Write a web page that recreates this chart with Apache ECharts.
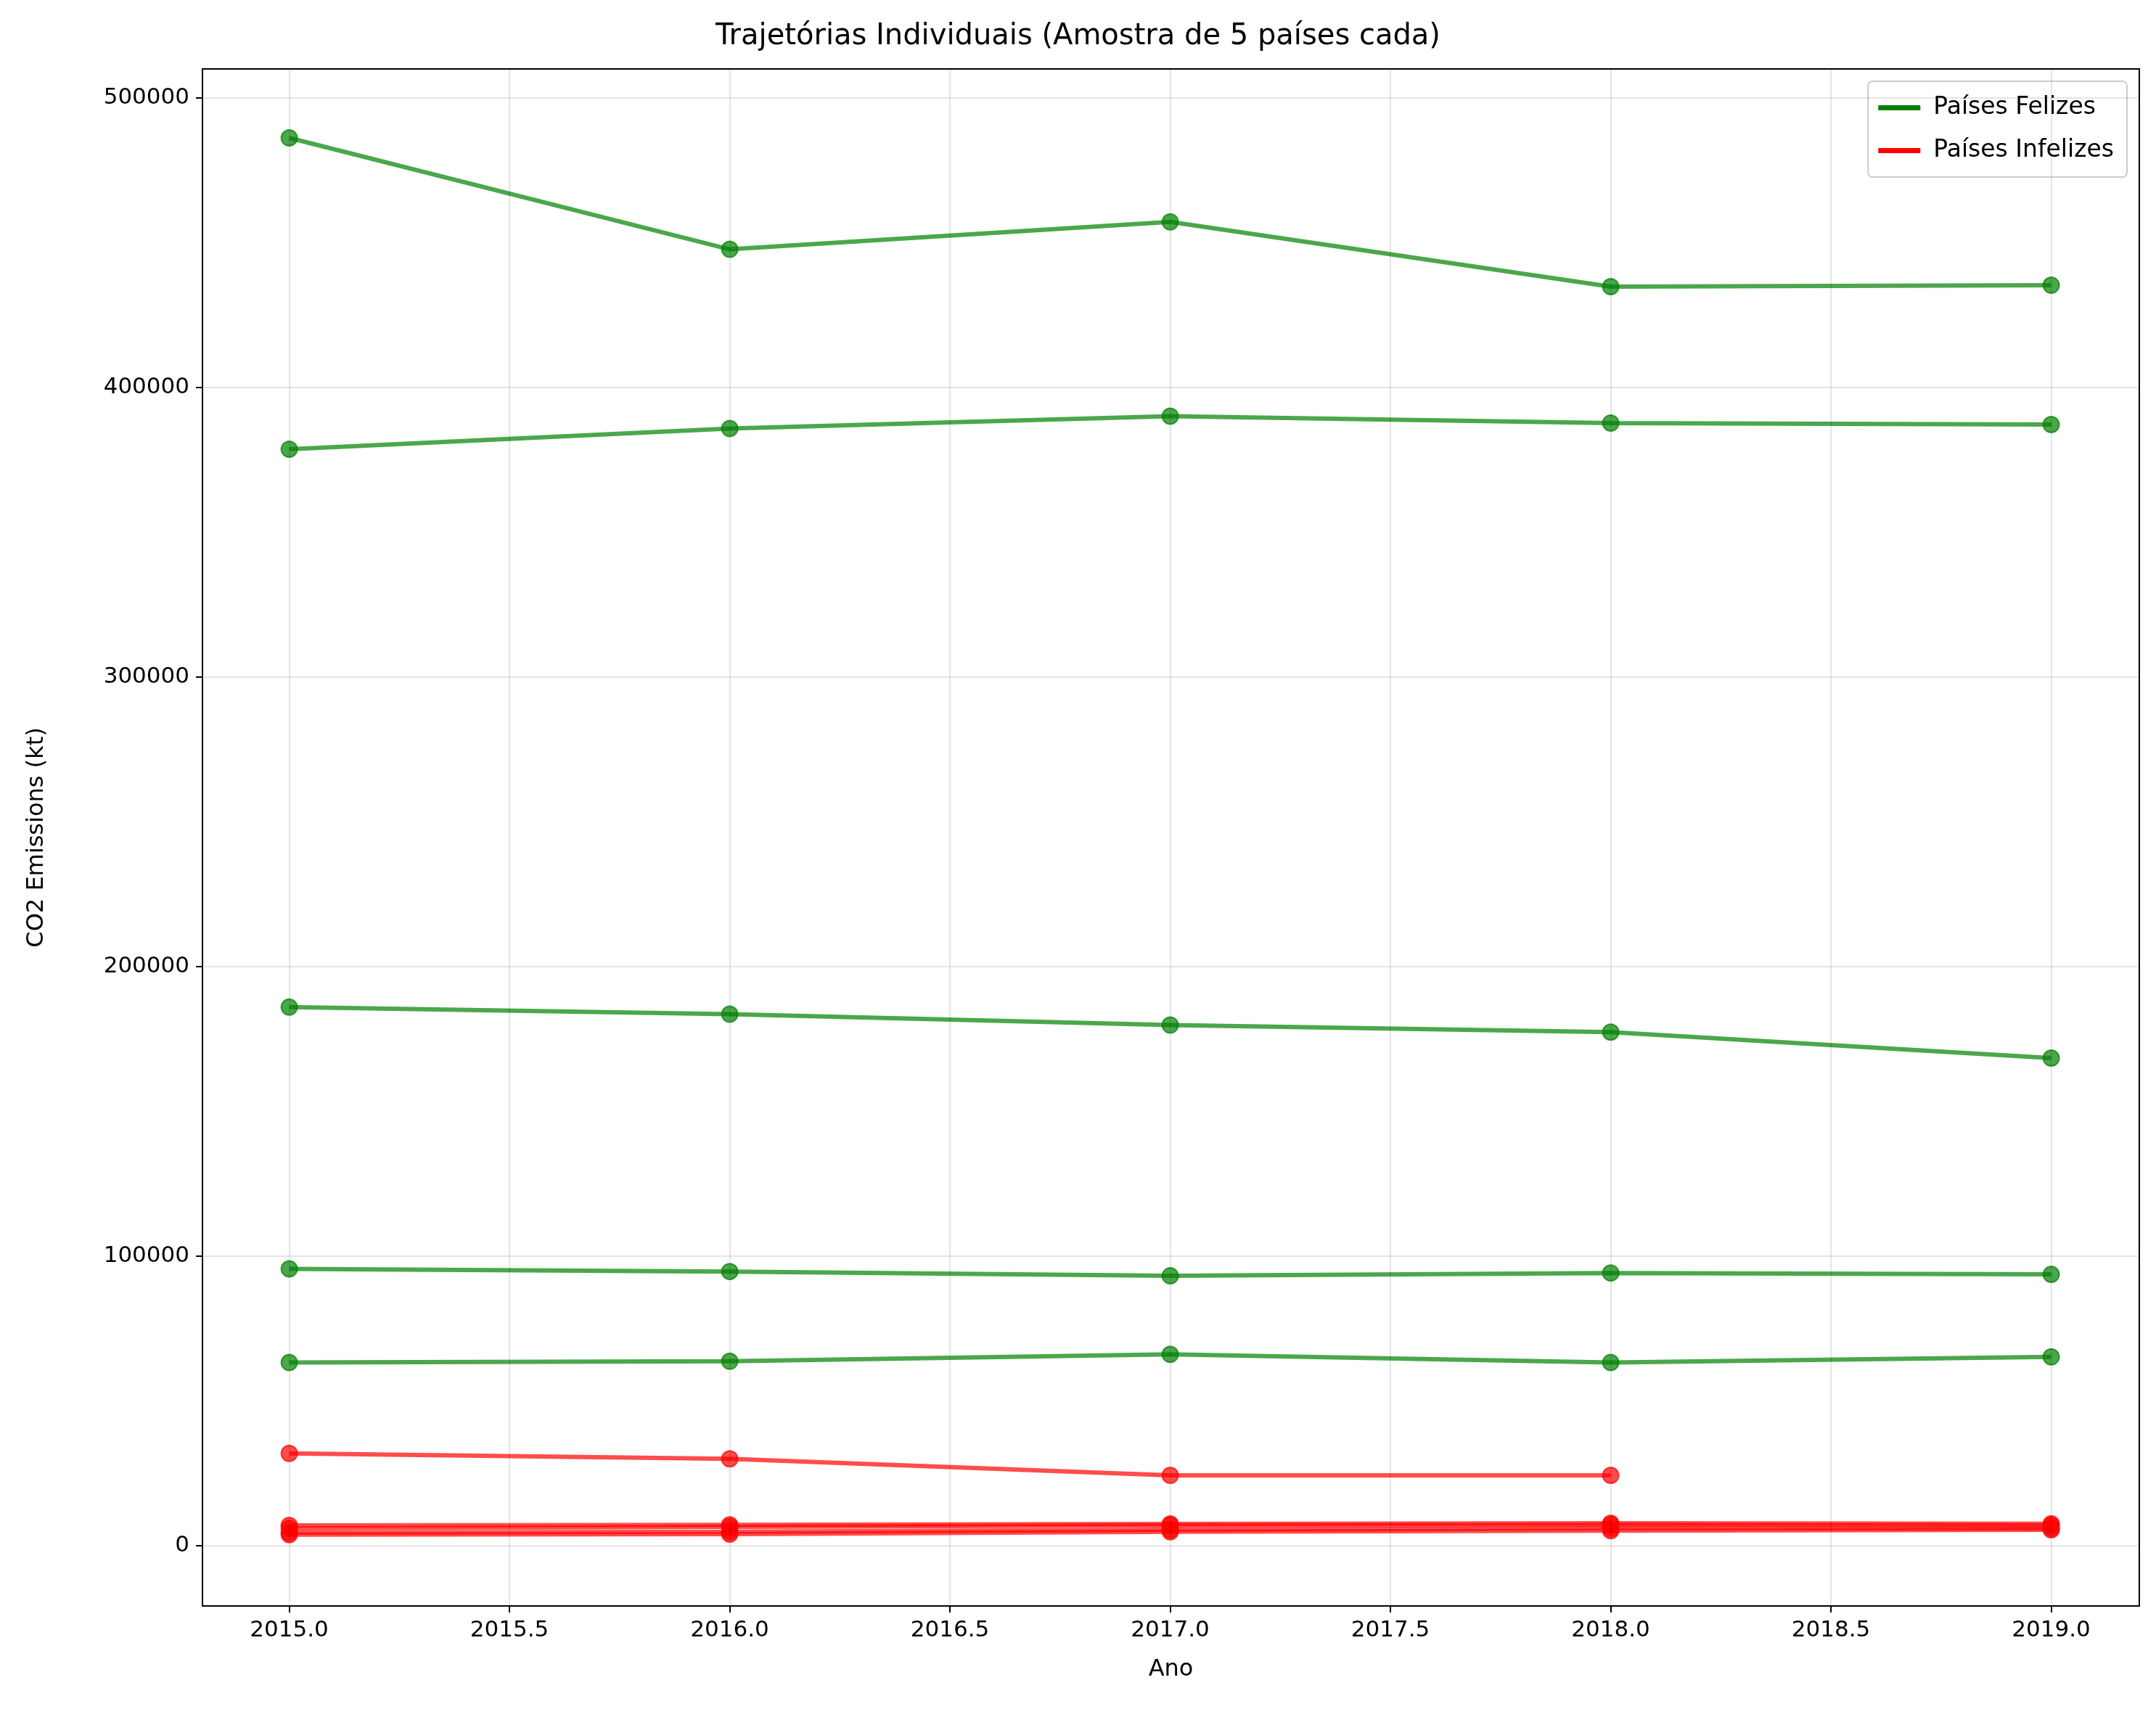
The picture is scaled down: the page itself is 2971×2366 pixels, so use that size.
<!DOCTYPE html>
<html><head><meta charset="utf-8">
<script src="https://cdn.jsdelivr.net/npm/echarts@6/dist/echarts.min.js"></script>
<style>html,body{margin:0;padding:0;background:#fff}#c{width:2971px;height:2366px}</style>
</head><body><div id="c"></div>
<script>
const years = [2015, 2016, 2017, 2018, 2019];
const xTicks = [2015, 2015.5, 2016, 2016.5, 2017, 2017.5, 2018, 2018.5, 2019];
const yTicks = [0, 100000, 200000, 300000, 400000, 500000];

// Países Felizes
const happy1 = [486200, 447700, 457200, 434800, 435300];
const happy2 = [378700, 385800, 390100, 387700, 387200];
const happy3 = [186000, 183600, 179800, 177400, 168400];
const happy4 = [95600, 94700, 93200, 94200, 93700];
const happy5 = [63300, 63700, 66100, 63300, 65200];
// Países Infelizes
const unhappy1 = [31900, 30000, 24300, 24300, null];
const unhappy2 = [7000, 7200, 7500, 7800, 7600];
const unhappy3 = [6000, 6500, 7000, 7200, 7000];
const unhappy4 = [4500, 4800, 5500, 6000, 6000];
const unhappy5 = [3800, 4000, 4800, 5200, 5500];

const happyName = 'Países Felizes', unhappyName = 'Países Infelizes';
const green = '#008000', red = '#ff0000';
const font = 'DejaVu Sans';

function line(name, color, vals) {
  return {
    name: name, type: 'line', symbol: 'circle', symbolSize: 22,
    data: years.map((y, i) => vals[i] == null ? null : [y, vals[i]]).filter(d => d),
    lineStyle: { color: color, width: 6, opacity: 0.7 },
    itemStyle: { color: color, opacity: 0.7, borderColor: color, borderWidth: 2 },
    emphasis: { disabled: true }, z: 3
  };
}

const series = [
  ...[happy1, happy2, happy3, happy4, happy5].map(v => line(happyName, green, v)),
  ...[unhappy1, unhappy2, unhappy3, unhappy4, unhappy5].map(v => line(unhappyName, red, v)),
  {
    type: 'line', data: [], silent: true,
    markLine: {
      silent: true, symbol: 'none', label: { show: false },
      lineStyle: { color: '#000', opacity: 0.1, width: 2, type: 'solid' },
      data: [...xTicks.map(x => ({ xAxis: x })), ...yTicks.map(y => ({ yAxis: y }))]
    }, z: 1
  }
];

const chart = echarts.init(document.getElementById('c'));
chart.setOption({
  animation: false,
  textStyle: { fontFamily: font },
  title: {
    text: 'Trajetórias Individuais (Amostra de 5 países cada)', left: 'center', top: 26,
    textStyle: { fontFamily: font, fontSize: 40, fontWeight: 'normal', color: '#000' }
  },
  legend: {
    data: [
      { name: happyName, itemStyle: { color: green, opacity: 1 }, lineStyle: { color: green, opacity: 1 } },
      { name: unhappyName, itemStyle: { color: red, opacity: 1 }, lineStyle: { color: red, opacity: 1 } }
    ],
    orient: 'vertical', right: 40, top: 112, icon: 'rect', itemWidth: 56, itemHeight: 5,
    itemGap: 26, padding: [20, 18, 20, 14], borderColor: '#ccc', borderWidth: 2, borderRadius: 6,
    backgroundColor: '#fff', textStyle: { fontFamily: font, fontSize: 33, color: '#000', padding: [0, 0, 0, 14] }
  },
  grid: { left: 279, right: 23, top: 95, bottom: 153, show: true, borderColor: '#000', borderWidth: 2 },
  xAxis: {
    type: 'value', min: 2014.803, max: 2019.2, name: 'Ano', nameLocation: 'middle', nameGap: 72,
    nameTextStyle: { fontSize: 32, color: '#000' },
    axisLine: { show: false, onZero: false }, splitLine: { show: false },
    axisTick: { customValues: xTicks, length: 9, lineStyle: { color: '#000', width: 2 } },
    axisLabel: { customValues: xTicks, fontSize: 31, color: '#000', margin: 18, formatter: v => v.toFixed(1) }
  },
  yAxis: {
    type: 'value', min: -20800, max: 510000, name: 'CO2 Emissions (kt)', nameLocation: 'middle', nameGap: 212,
    nameTextStyle: { fontSize: 32, color: '#000' },
    axisLine: { show: false, onZero: false }, splitLine: { show: false },
    axisTick: { customValues: yTicks, length: 9, lineStyle: { color: '#000', width: 2 } },
    axisLabel: { customValues: yTicks, fontSize: 31, color: '#000', margin: 18, formatter: v => String(v) }
  },
  series: series
});
</script></body></html>
